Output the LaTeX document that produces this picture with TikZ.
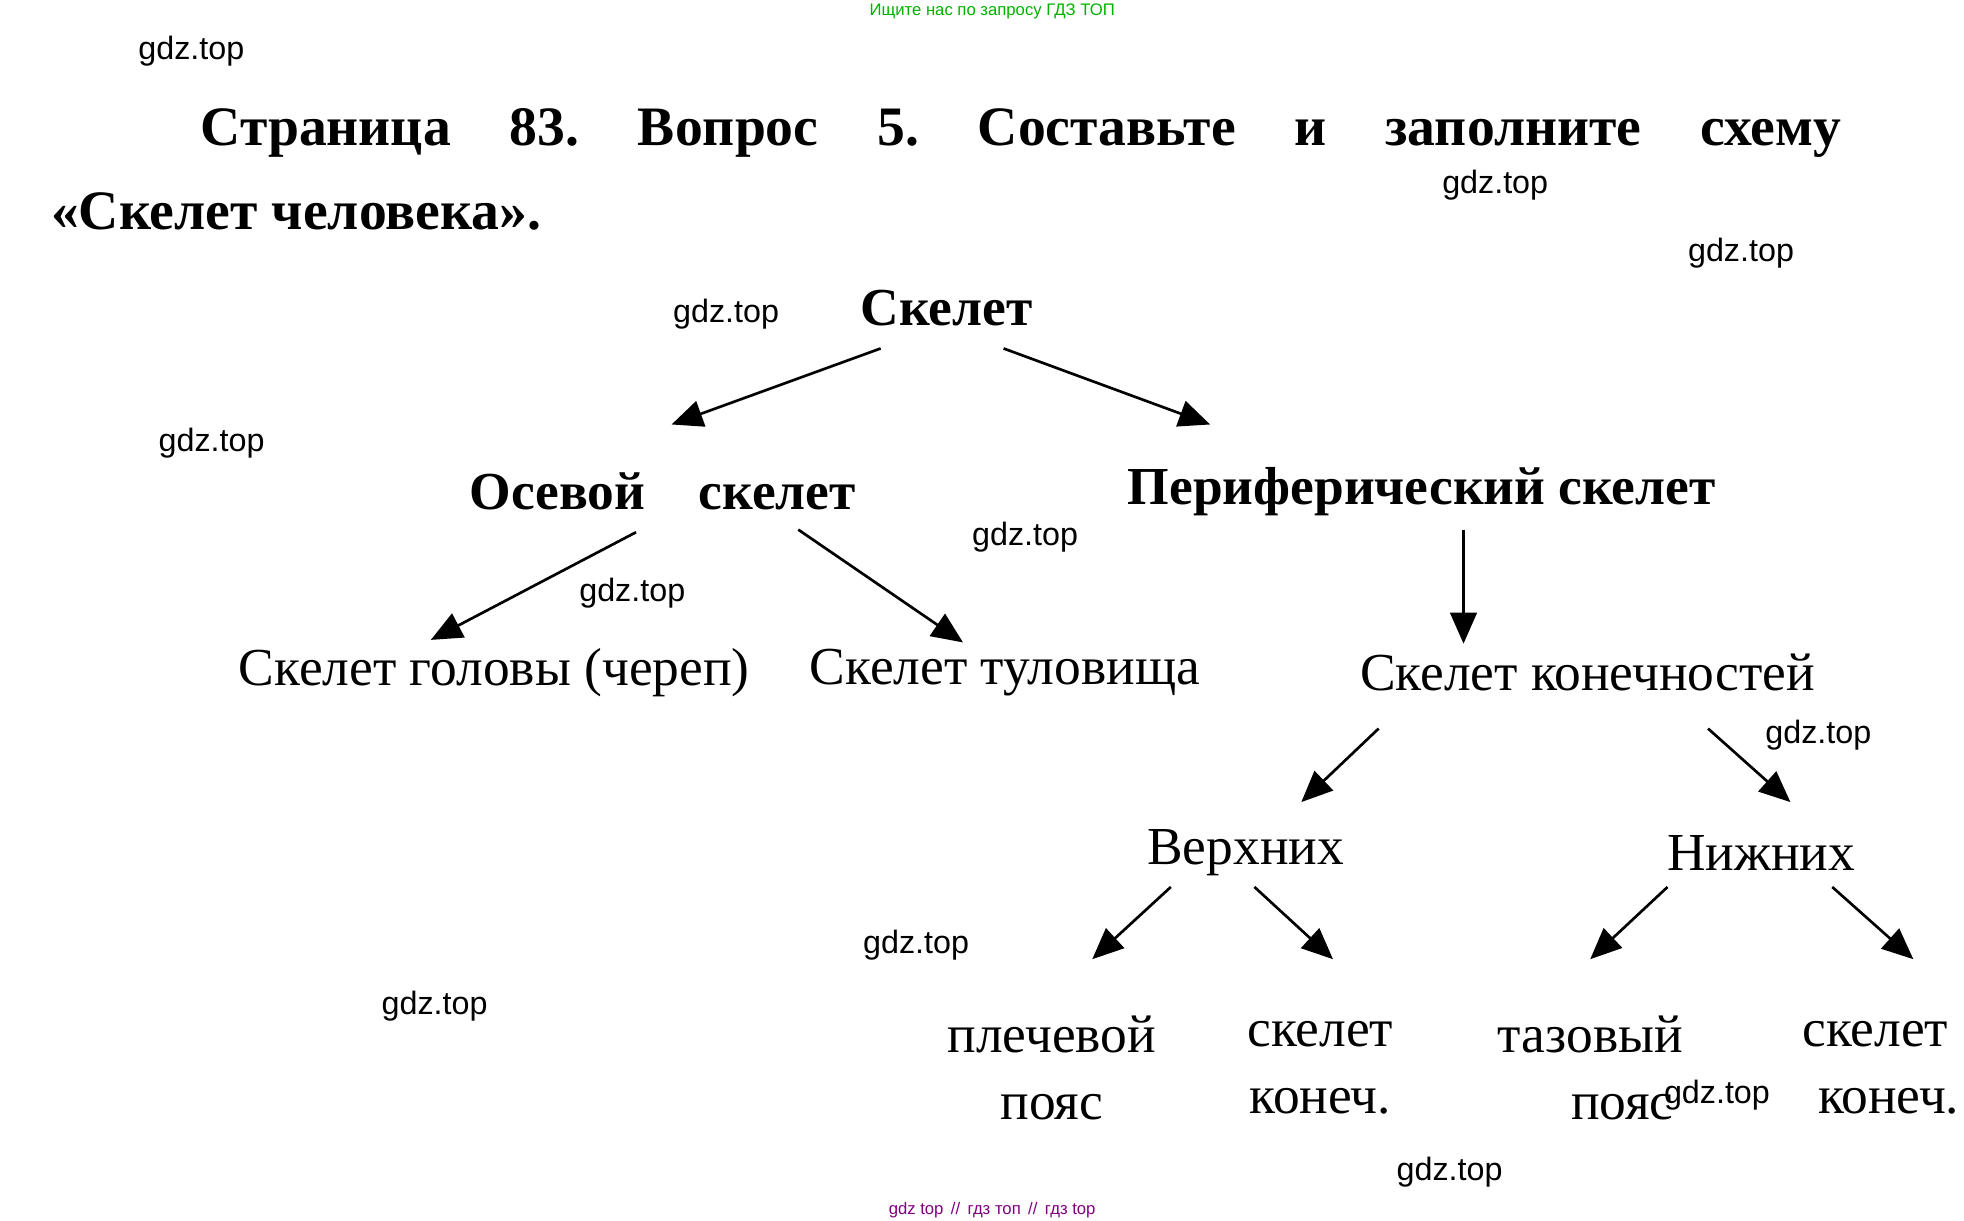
\documentclass[tikz,border=0pt]{standalone}
\usepackage{fontspec}
\setmainfont{Liberation Serif}
\newfontfamily\wm{Liberation Sans}
\usetikzlibrary{arrows.meta}
\frenchspacing
\begin{document}
\begin{tikzpicture}[x=0.02cm,y=-0.02cm,
 lbl/.style={font=\fontsize{24}{26}\selectfont,inner sep=0pt},
 blbl/.style={font=\fontsize{24}{26}\selectfont\bfseries,inner sep=0pt},
 wmk/.style={font=\wm\fontsize{14.5}{16}\selectfont,inner sep=0pt},
 arr/.style={line width=1.2pt,-{Triangle[length=14pt,width=12pt]}}]
\useasboundingbox (0,0) rectangle (1550,963);
\node[font=\wm\fontsize{7.5}{8}\selectfont,text=green!70!black] (top) at (783,9) {Ищите нас по запросу ГДЗ ТОП};
\node[anchor=west,inner sep=0pt,font=\fontsize{25}{28}\selectfont\bfseries] (t1) at (158,105) {\makebox[25.9cm][s]{Страница 83. Вопрос 5. Составьте и заполните схему}};
\node[anchor=west,inner sep=0pt,font=\fontsize{25}{28}\selectfont\bfseries] (t2) at (40,167) {«Скелет человека».};
\node[blbl] (sk) at (747,243) {Скелет};
\node[blbl] (os) at (523,388) {Осевой\quad скелет};
\node[blbl] (per) at (1122,388) {Периферический скелет};
\node[lbl] (gol) at (390,531) {Скелет головы (череп)};
\node[lbl] (tul) at (793,531) {Скелет туловища};
\node[lbl] (kon) at (1253,531) {Скелет конечностей};
\node[lbl] (ver) at (983,673) {Верхних};
\node[lbl] (nij) at (1390,673) {Нижних};
\node[lbl,align=center] (pp) at (830,843) {плечевой\\[4pt]пояс};
\node[lbl,align=center] (sk1) at (1042,843) {скелет\\[4pt]конеч.};
\node[lbl,align=center] (tp) at (1255,843) {тазовый\\[4pt]\hspace*{1.2em}пояс};
\node[lbl,align=center] (sk2) at (1480,843) {скелет\\[4pt]\hspace*{0.5em}конеч.};
\foreach \n/\a/\b/\c/\d in {1/695/275/530/335, 2/792/275/955/335, 3/502/420/340/505, 4/630/418/760/507, 5/1155/418/1155/508, 6/1088/575/1027/633, 7/1348/575/1413/633, 8/924/700/862/757, 9/990/700/1052/757, 10/1316/700/1255/757, 11/1446/700/1510/757}{
 \coordinate (s\n) at (\a,\b); \coordinate (e\n) at (\c,\d);
 \draw[arr] (s\n) -- (e\n);}
\foreach \x/\y [count=\i] in {151/40,1180/146,1374/200,573/248,167/350,809/424,499/468,1435/580,723/746,343/794,1355/864,1144/925}{
 \node[wmk] (w\i) at (\x,\y) {gdz.top};}
\node[font=\wm\fontsize{7.5}{8}\selectfont,text=violet] (foot) at (783,955) {gdz top \,//\, гдз топ \,//\, гдз top};
\end{tikzpicture}
\end{document}
